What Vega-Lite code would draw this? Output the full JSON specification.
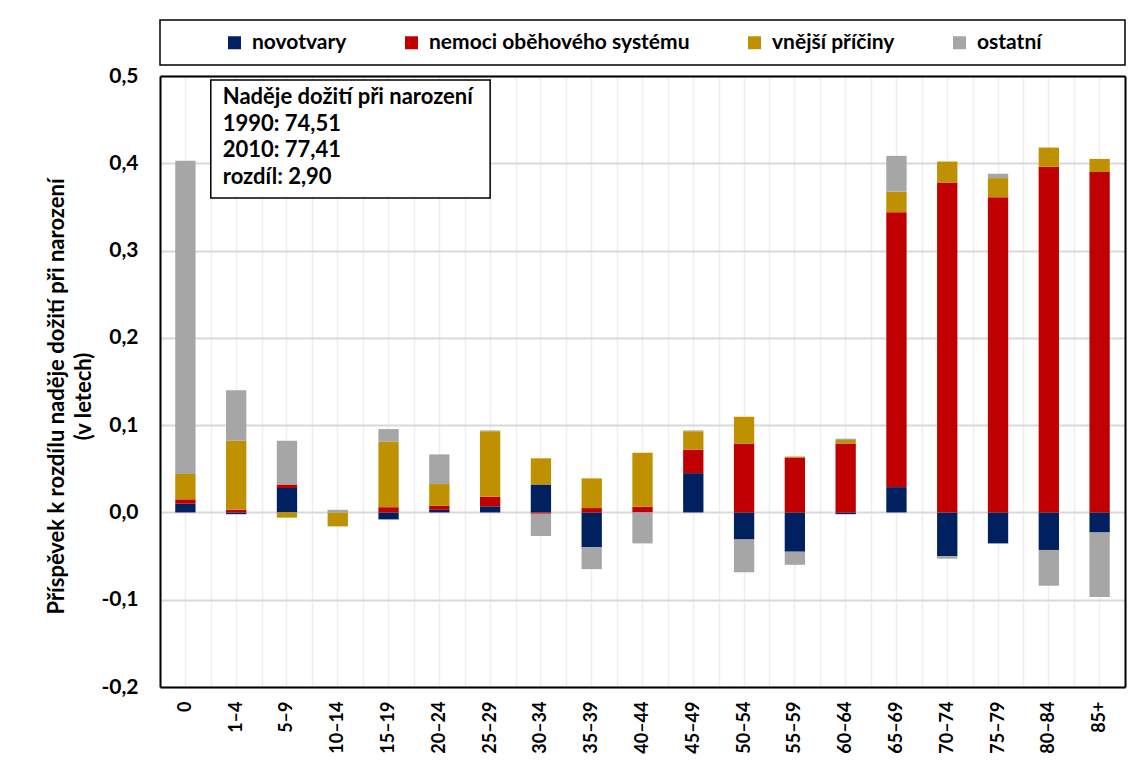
{
  "$schema": "https://vega.github.io/schema/vega-lite/v6.json",
  "width": 965,
  "height": 611,
  "autosize": "none",
  "padding": {"left": 160, "top": 76, "right": 6, "bottom": 73},
  "background": "white",
  "config": {
    "font": "Lato",
    "view": {"stroke": null},
    "axis": {"labelColor": "black", "titleColor": "black", "labelFontWeight": "bold", "titleFontWeight": "bold", "zindex": 0}
  },
  "data": {
    "values": [
      {"vek": "0", "pricina": "novotvary", "p": 1, "hodnota": 0.010},
      {"vek": "0", "pricina": "nemoci oběhového systému", "p": 2, "hodnota": 0.005},
      {"vek": "0", "pricina": "vnější příčiny", "p": 3, "hodnota": 0.029},
      {"vek": "0", "pricina": "ostatní", "p": 4, "hodnota": 0.359},
      {"vek": "1–4", "pricina": "novotvary", "p": 1, "hodnota": -0.002},
      {"vek": "1–4", "pricina": "nemoci oběhového systému", "p": 2, "hodnota": 0.003},
      {"vek": "1–4", "pricina": "vnější příčiny", "p": 3, "hodnota": 0.079},
      {"vek": "1–4", "pricina": "ostatní", "p": 4, "hodnota": 0.058},
      {"vek": "5–9", "pricina": "novotvary", "p": 1, "hodnota": 0.028},
      {"vek": "5–9", "pricina": "nemoci oběhového systému", "p": 2, "hodnota": 0.004},
      {"vek": "5–9", "pricina": "vnější příčiny", "p": 3, "hodnota": -0.006},
      {"vek": "5–9", "pricina": "ostatní", "p": 4, "hodnota": 0.050},
      {"vek": "10–14", "pricina": "novotvary", "p": 1, "hodnota": 0.0},
      {"vek": "10–14", "pricina": "nemoci oběhového systému", "p": 2, "hodnota": 0.0},
      {"vek": "10–14", "pricina": "vnější příčiny", "p": 3, "hodnota": -0.016},
      {"vek": "10–14", "pricina": "ostatní", "p": 4, "hodnota": 0.003},
      {"vek": "15–19", "pricina": "novotvary", "p": 1, "hodnota": -0.008},
      {"vek": "15–19", "pricina": "nemoci oběhového systému", "p": 2, "hodnota": 0.006},
      {"vek": "15–19", "pricina": "vnější příčiny", "p": 3, "hodnota": 0.075},
      {"vek": "15–19", "pricina": "ostatní", "p": 4, "hodnota": 0.0145},
      {"vek": "20–24", "pricina": "novotvary", "p": 1, "hodnota": 0.003},
      {"vek": "20–24", "pricina": "nemoci oběhového systému", "p": 2, "hodnota": 0.0045},
      {"vek": "20–24", "pricina": "vnější příčiny", "p": 3, "hodnota": 0.025},
      {"vek": "20–24", "pricina": "ostatní", "p": 4, "hodnota": 0.034},
      {"vek": "25–29", "pricina": "novotvary", "p": 1, "hodnota": 0.007},
      {"vek": "25–29", "pricina": "nemoci oběhového systému", "p": 2, "hodnota": 0.011},
      {"vek": "25–29", "pricina": "vnější příčiny", "p": 3, "hodnota": 0.075},
      {"vek": "25–29", "pricina": "ostatní", "p": 4, "hodnota": 0.001},
      {"vek": "30–34", "pricina": "novotvary", "p": 1, "hodnota": 0.032},
      {"vek": "30–34", "pricina": "nemoci oběhového systému", "p": 2, "hodnota": -0.0015},
      {"vek": "30–34", "pricina": "vnější příčiny", "p": 3, "hodnota": 0.030},
      {"vek": "30–34", "pricina": "ostatní", "p": 4, "hodnota": -0.0255},
      {"vek": "35–39", "pricina": "novotvary", "p": 1, "hodnota": -0.040},
      {"vek": "35–39", "pricina": "nemoci oběhového systému", "p": 2, "hodnota": 0.005},
      {"vek": "35–39", "pricina": "vnější příčiny", "p": 3, "hodnota": 0.034},
      {"vek": "35–39", "pricina": "ostatní", "p": 4, "hodnota": -0.025},
      {"vek": "40–44", "pricina": "novotvary", "p": 1, "hodnota": 0.0},
      {"vek": "40–44", "pricina": "nemoci oběhového systému", "p": 2, "hodnota": 0.0065},
      {"vek": "40–44", "pricina": "vnější příčiny", "p": 3, "hodnota": 0.062},
      {"vek": "40–44", "pricina": "ostatní", "p": 4, "hodnota": -0.0355},
      {"vek": "45–49", "pricina": "novotvary", "p": 1, "hodnota": 0.045},
      {"vek": "45–49", "pricina": "nemoci oběhového systému", "p": 2, "hodnota": 0.027},
      {"vek": "45–49", "pricina": "vnější příčiny", "p": 3, "hodnota": 0.021},
      {"vek": "45–49", "pricina": "ostatní", "p": 4, "hodnota": 0.001},
      {"vek": "50–54", "pricina": "novotvary", "p": 1, "hodnota": -0.031},
      {"vek": "50–54", "pricina": "nemoci oběhového systému", "p": 2, "hodnota": 0.0786},
      {"vek": "50–54", "pricina": "vnější příčiny", "p": 3, "hodnota": 0.031},
      {"vek": "50–54", "pricina": "ostatní", "p": 4, "hodnota": -0.0376},
      {"vek": "55–59", "pricina": "novotvary", "p": 1, "hodnota": -0.045},
      {"vek": "55–59", "pricina": "nemoci oběhového systému", "p": 2, "hodnota": 0.063},
      {"vek": "55–59", "pricina": "vnější příčiny", "p": 3, "hodnota": 0.001},
      {"vek": "55–59", "pricina": "ostatní", "p": 4, "hodnota": -0.015},
      {"vek": "60–64", "pricina": "novotvary", "p": 1, "hodnota": -0.002},
      {"vek": "60–64", "pricina": "nemoci oběhového systému", "p": 2, "hodnota": 0.079},
      {"vek": "60–64", "pricina": "vnější příčiny", "p": 3, "hodnota": 0.004},
      {"vek": "60–64", "pricina": "ostatní", "p": 4, "hodnota": 0.0015},
      {"vek": "65–69", "pricina": "novotvary", "p": 1, "hodnota": 0.029},
      {"vek": "65–69", "pricina": "nemoci oběhového systému", "p": 2, "hodnota": 0.315},
      {"vek": "65–69", "pricina": "vnější příčiny", "p": 3, "hodnota": 0.0235},
      {"vek": "65–69", "pricina": "ostatní", "p": 4, "hodnota": 0.041},
      {"vek": "70–74", "pricina": "novotvary", "p": 1, "hodnota": -0.050},
      {"vek": "70–74", "pricina": "nemoci oběhového systému", "p": 2, "hodnota": 0.378},
      {"vek": "70–74", "pricina": "vnější příčiny", "p": 3, "hodnota": 0.024},
      {"vek": "70–74", "pricina": "ostatní", "p": 4, "hodnota": -0.003},
      {"vek": "75–79", "pricina": "novotvary", "p": 1, "hodnota": -0.0355},
      {"vek": "75–79", "pricina": "nemoci oběhového systému", "p": 2, "hodnota": 0.361},
      {"vek": "75–79", "pricina": "vnější příčiny", "p": 3, "hodnota": 0.022},
      {"vek": "75–79", "pricina": "ostatní", "p": 4, "hodnota": 0.005},
      {"vek": "80–84", "pricina": "novotvary", "p": 1, "hodnota": -0.043},
      {"vek": "80–84", "pricina": "nemoci oběhového systému", "p": 2, "hodnota": 0.396},
      {"vek": "80–84", "pricina": "vnější příčiny", "p": 3, "hodnota": 0.022},
      {"vek": "80–84", "pricina": "ostatní", "p": 4, "hodnota": -0.041},
      {"vek": "85+", "pricina": "novotvary", "p": 1, "hodnota": -0.023},
      {"vek": "85+", "pricina": "nemoci oběhového systému", "p": 2, "hodnota": 0.390},
      {"vek": "85+", "pricina": "vnější příčiny", "p": 3, "hodnota": 0.015},
      {"vek": "85+", "pricina": "ostatní", "p": 4, "hodnota": -0.074}
    ]
  },
  "layer": [
    {
      "mark": {"type": "bar", "width": {"band": 0.4}, "zindex": 1},
      "encoding": {
        "x": {
          "field": "vek", "type": "nominal", "sort": null,
          "scale": {"paddingInner": 0, "paddingOuter": 0},
          "axis": {
            "orient": "bottom", "title": null, "labelAngle": -90, "labelFontSize": 18,
            "labelPadding": 14, "ticks": false, "tickSize": 0,
            "domain": true, "domainColor": "black", "domainWidth": 2,
            "grid": true, "tickBand": "extent", "gridColor": "#eeeeee", "gridWidth": 1.5
          }
        },
        "y": {
          "field": "hodnota", "type": "quantitative", "stack": "zero",
          "scale": {"domain": [-0.2, 0.5], "nice": false, "zero": false},
          "axis": {
            "values": [-0.2, -0.1, 0, 0.1, 0.2, 0.3, 0.4, 0.5],
            "labelExpr": "replace(replace(format(datum.value, '.1f'), '.', ','), '\u2212', '-')",
            "labelFontSize": 21, "labelPadding": 22, "ticks": false, "tickSize": 0,
            "domain": true, "domainColor": "black", "domainWidth": 2,
            "gridColor": "#d9d9d9", "gridWidth": 2,
            "title": ["Příspěvek k rozdílu naděje dožití při narození", "(v letech)"],
            "titleFontSize": 22, "titleLineHeight": 27, "titleX": -104, "titleY": 320,
            "titleBaseline": "middle", "titleAlign": "center", "titleAngle": -90
          }
        },
        "color": {
          "field": "pricina", "type": "nominal",
          "scale": {
            "domain": ["novotvary", "nemoci oběhového systému", "vnější příčiny", "ostatní"],
            "range": ["#002060", "#C00000", "#BF9000", "#A6A6A6"]
          },
          "legend": {
            "title": null, "orient": "none", "direction": "horizontal", "columns": 4,
            "legendX": 64, "legendY": -44, "padding": 0, "symbolType": "square",
            "symbolSize": 169, "symbolStrokeWidth": 0, "labelOffset": 7, "labelFontSize": 21,
            "labelFontWeight": "bold", "labelColor": "black", "columnPadding": 54, "labelLimit": 400,
            "zindex": 3
          }
        },
        "order": {"field": "p", "type": "quantitative"}
      }
    },
    {
      "data": {"values": [{}]},
      "mark": {"type": "rect", "fill": "white", "stroke": "black", "strokeWidth": 1.5, "zindex": 2},
      "encoding": {
        "x": {
          "datum": "1–4", "type": "nominal", "bandPosition": 0,
          "axis": {
            "orient": "top", "title": null, "labels": false, "ticks": false,
            "domain": true, "domainColor": "black", "domainWidth": 2,
            "grid": true, "tickBand": "center", "gridColor": "#eeeeee", "gridWidth": 1.5
          }
        },
        "x2": {"datum": "25–29", "bandPosition": 0.5},
        "y": {
          "datum": 0.4954, "type": "quantitative",
          "axis": {
            "orient": "right", "title": null, "labels": false, "ticks": false, "grid": false,
            "domain": true, "domainColor": "black", "domainWidth": 2
          }
        },
        "y2": {"datum": 0.3602}
      }
    },
    {
      "data": {"values": [{}]},
      "mark": {"type": "rect", "fill": "white", "stroke": "black", "strokeWidth": 1.5, "clip": false, "zindex": 2},
      "encoding": {
        "x": {"datum": "0", "type": "nominal", "bandPosition": 0, "axis": null},
        "x2": {"datum": "85+", "bandPosition": 1},
        "y": {"datum": 0.5641, "type": "quantitative", "axis": null},
        "y2": {"datum": 0.5126}
      }
    },
    {
      "data": {"values": [{}]},
      "mark": {
        "type": "text", "align": "left", "baseline": "top", "dx": 12,
        "fontSize": 22, "fontWeight": "bold", "lineHeight": 26.5, "color": "black", "zindex": 3
      },
      "encoding": {
        "x": {"datum": "1–4", "type": "nominal", "bandPosition": 0, "axis": null},
        "y": {"datum": 0.487, "type": "quantitative", "axis": null},
        "text": {"value": ["Naděje dožití při narození", "1990: 74,51", "2010: 77,41", "rozdíl: 2,90"]}
      }
    }
  ],
  "resolve": {"axis": {"x": "independent", "y": "independent"}}
}
